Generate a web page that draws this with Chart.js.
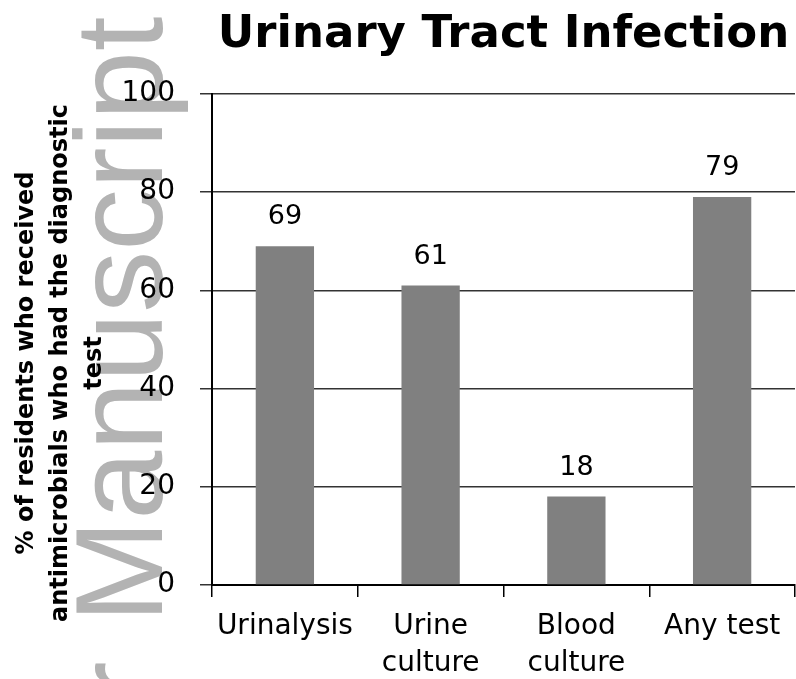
<!DOCTYPE html>
<html>
<head>
<meta charset="utf-8">
<script src="https://cdn.jsdelivr.net/npm/chart.js@4/dist/chart.umd.min.js"></script>
<style>
  html, body { margin: 0; padding: 0; background: #ffffff; }
  #wrap { width: 796px; height: 679px; position: relative; }
</style>
</head>
<body>
<div id="wrap"><canvas id="c" width="796" height="679"></canvas></div>
<script>
const chartTitle = 'Urinary Tract Infection';
const categories = [['Urinalysis'], ['Urine', 'culture'], ['Blood', 'culture'], ['Any test']];
const values = [69, 61, 18, 79];
const yTicks = [0, 20, 40, 60, 80, 100];
const yTitleLines = ['% of residents who received', 'antimicrobials who had the diagnostic', 'test'];
const watermarkBefore = 'Author ';
const watermarkText = 'Manuscript';

const FONT = '"DejaVu Sans", sans-serif';

const decorPlugin = {
  id: 'decor',
  beforeDraw(chart) {
    const ctx = chart.ctx;
    ctx.save();
    ctx.fillStyle = '#ffffff';
    ctx.fillRect(0, 0, chart.width, chart.height);
    // watermark
    ctx.translate(162, 623);
    ctx.rotate(-Math.PI / 2);
    ctx.font = '124px "Liberation Sans", sans-serif';
    ctx.fillStyle = '#b3b3b3';
    ctx.textBaseline = 'alphabetic';
    ctx.textAlign = 'left';
    ctx.fillText(watermarkText, 0, 0);
    ctx.textAlign = 'right';
    ctx.fillText(watermarkBefore, -4, 0);
    ctx.restore();
  },
  afterDraw(chart) {
    const ctx = chart.ctx;
    const area = chart.chartArea;
    ctx.save();
    // title
    ctx.fillStyle = '#000000';
    ctx.font = 'bold 45px ' + FONT;
    ctx.textAlign = 'center';
    ctx.textBaseline = 'middle';
    ctx.fillText(chartTitle, (area.left + area.right) / 2, 35);
    // y-axis title
    ctx.font = 'bold 24px ' + FONT;
    const xs = [27, 61, 95];
    yTitleLines.forEach((line, i) => {
      ctx.save();
      ctx.translate(xs[i], 363);
      ctx.rotate(-Math.PI / 2);
      ctx.textAlign = 'center';
      ctx.textBaseline = 'middle';
      ctx.fillText(line, 0, 0);
      ctx.restore();
    });
    // value labels
    ctx.font = '27px ' + FONT;
    ctx.textAlign = 'center';
    ctx.textBaseline = 'middle';
    const meta = chart.getDatasetMeta(0);
    meta.data.forEach((bar, i) => {
      ctx.fillText(String(values[i]), bar.x, bar.y - 29);
    });
    ctx.restore();
  }
};

new Chart(document.getElementById('c'), {
  type: 'bar',
  data: {
    labels: categories,
    datasets: [{
      data: values,
      backgroundColor: '#808080',
      borderWidth: 0,
      barPercentage: 0.4,
      categoryPercentage: 1.0
    }]
  },
  options: {
    responsive: false,
    animation: false,
    devicePixelRatio: 1,
    layout: { padding: { top: 94, right: 1, left: 0, bottom: 0 } },
    plugins: {
      legend: { display: false },
      tooltip: { enabled: false },
      title: { display: false }
    },
    scales: {
      x: {
        afterFit(scale) { scale.height = 94; },
        grid: {
          offset: true,
          drawOnChartArea: false,
          drawTicks: true,
          tickLength: 12,
          color: '#000000',
          lineWidth: 1.5
        },
        border: { color: '#000000', width: 2 },
        ticks: {
          color: '#000000',
          padding: 11,
          font: { family: FONT, size: 28, lineHeight: 1.32 },
          maxRotation: 0,
          autoSkip: false
        }
      },
      y: {
        min: 0,
        max: 100,
        afterFit(scale) { scale.width = 212; },
        afterBuildTicks(scale) { scale.ticks = yTicks.map(v => ({ value: v })); },
        grid: {
          color: '#333333',
          lineWidth: 1.5,
          drawTicks: true,
          tickLength: 12
        },
        border: { color: '#000000', width: 2 },
        ticks: {
          color: '#000000',
          padding: 25,
          font: { family: FONT, size: 28 }
        }
      }
    }
  },
  plugins: [decorPlugin]
});
</script>
</body>
</html>
